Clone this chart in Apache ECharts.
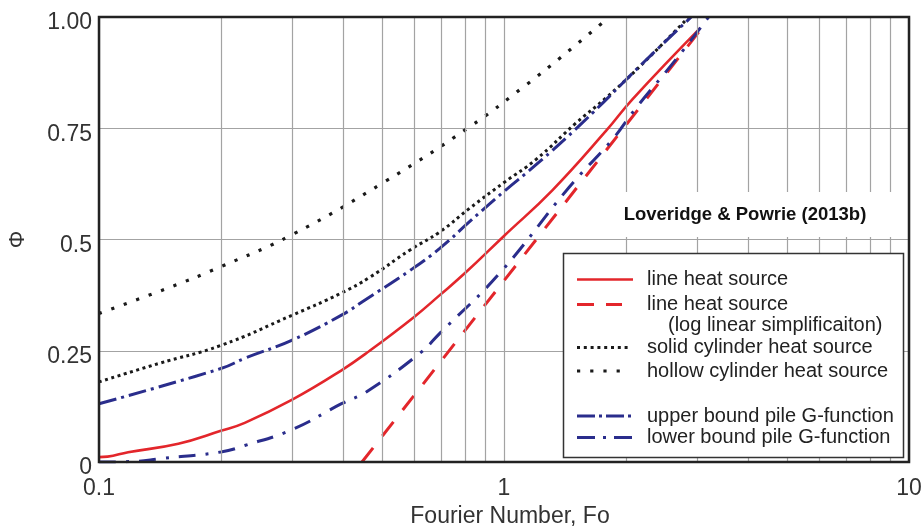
<!DOCTYPE html>
<html><head><meta charset="utf-8">
<script src="https://cdn.jsdelivr.net/npm/echarts@6/dist/echarts.min.js"></script>
<style>html,body{margin:0;padding:0;background:#fff}#c{width:923px;height:526px}</style>
</head><body><div id="c"></div>
<script>
// ---- tick labels / grid ----
const yTicks = [0, 0.25, 0.5, 0.75, 1];
const yTickLabels = ['0', '0.25', '0.5', '0.75', '1.00'];
const minorGridFo = [0.2, 0.3, 0.4, 0.5, 0.6, 0.7, 0.8, 0.9, 2, 3, 4, 5, 6, 7, 8, 9];

// ---- series (Fourier number, Phi) ----
const lineFo  = [0.1, 0.105, 0.118, 0.157, 0.2, 0.229, 0.3, 0.397, 0.466, 0.6, 0.694, 0.8, 1.0, 1.318, 1.79, 2.075, 3.05];
const linePhi = [0.011, 0.012, 0.022, 0.041, 0.07, 0.088, 0.14, 0.206, 0.25, 0.326, 0.375, 0.424, 0.508, 0.611, 0.745, 0.815, 0.975];

const logLinFo  = [0.446, 3.08];
const logLinPhi = [0, 0.975];

const solidFo  = [0.1, 0.14, 0.2, 0.3, 0.397, 0.466, 0.585, 0.694, 0.822, 1.0, 1.2, 1.507, 1.785, 2.2, 2.86];
const solidPhi = [0.18, 0.221, 0.262, 0.33, 0.38, 0.415, 0.476, 0.517, 0.57, 0.628, 0.68, 0.762, 0.818, 0.895, 1.0];

const hollowFo  = [0.1, 0.147, 0.2, 0.3, 0.508, 0.822, 1.14, 1.38, 1.82];
const hollowPhi = [0.334, 0.39, 0.439, 0.511, 0.63, 0.753, 0.849, 0.909, 1.0];

const upperFo  = [0.1, 0.2, 0.229, 0.3, 0.397, 0.45, 0.585, 0.694, 0.822, 1.0, 1.2, 1.56, 2.2, 2.9];
const upperPhi = [0.131, 0.21, 0.233, 0.274, 0.33, 0.362, 0.43, 0.48, 0.54, 0.608, 0.668, 0.762, 0.896, 1.0];

const lowerFo  = [0.1, 0.12, 0.143, 0.2, 0.229, 0.3, 0.397, 0.458, 0.619, 0.694, 0.975, 1.45, 1.853, 2.116, 2.66, 3.2];
const lowerPhi = [0, 0.001, 0.008, 0.0225, 0.037, 0.073, 0.131, 0.158, 0.244, 0.289, 0.424, 0.618, 0.725, 0.795, 0.905, 1.0];

const seriesNames = ['line heat source', 'line heat source (log linear simplificaiton)',
  'solid cylinder heat source', 'hollow cylinder heat source',
  'upper bound pile G-function', 'lower bound pile G-function'];

const RED = '#e3262b', BLUE = '#2a2d8c', BLACK = '#1a1a1a';
const FONT = '"Liberation Sans", Arial, sans-serif';

function zip(a, b) { return a.map((v, i) => [v, b[i]]); }

const styles = [
  { color: RED, width: 2.6, type: 'solid', smooth: 0.45 },
  { color: RED, width: 3, type: [18, 15], smooth: false },
  { color: BLACK, width: 3, type: [3, 3.5], smooth: 0.45 },
  { color: BLACK, width: 3.2, type: [3.2, 10], smooth: 0.45 },
  { color: BLUE, width: 3, type: [18, 5, 3, 5], smooth: 0.45 },
  { color: BLUE, width: 3, type: [17, 10, 3, 10], smooth: 0.45 }
];
const dataSets = [zip(lineFo, linePhi), zip(logLinFo, logLinPhi), zip(solidFo, solidPhi),
  zip(hollowFo, hollowPhi), zip(upperFo, upperPhi), zip(lowerFo, lowerPhi)];

const series = [{
  type: 'line', data: [], z: 1, silent: true,
  markLine: {
    silent: true, symbol: ['none', 'none'], label: { show: false }, animation: false,
    lineStyle: { color: '#a3a3a3', width: 1.2, type: 'solid' },
    data: minorGridFo.map(v => ({ xAxis: v }))
  }
}];
dataSets.forEach((d, i) => {
  series.push({
    name: seriesNames[i], type: 'line', data: d, symbol: 'none', showSymbol: false,
    smooth: styles[i].smooth, z: 3,
    lineStyle: { color: styles[i].color, width: styles[i].width, type: styles[i].type, cap: 'butt' }
  });
});

// ---- legend drawn as graphics ----
const LX0 = 577, TX = 647;
const legendRows = [
  { y: 279.5, x1: 633, s: 0, text: 'line heat source' },
  { y: 304.5, x1: 622, s: 1, text: 'line heat source' },
  { y: 325.5, x1: null, s: null, text: '(log linear simplificaiton)', tx: 668 },
  { y: 347.5, x1: 631, s: 2, text: 'solid cylinder heat source' },
  { y: 371, x1: 622, s: 3, text: 'hollow cylinder heat source' },
  { y: 416, x1: 633, s: 4, text: 'upper bound pile G-function' },
  { y: 437.5, x1: 633, s: 5, text: 'lower bound pile G-function' }
];
const legendDash = [null, [17, 12], [3, 3.8], [3.2, 10], [18, 4, 3, 4], [18, 8, 3, 8]];
const graphics = [
  { type: 'rect', shape: { x: 612, y: 192, width: 293, height: 45 }, style: { fill: '#fff' }, z: 50, silent: true },
  { type: 'text', x: 745, y: 215, z: 51, silent: true,
    style: { text: 'Loveridge & Powrie (2013b)', fontFamily: FONT, fontWeight: 'bold', fontSize: 18.5, fill: '#111', align: 'center', verticalAlign: 'middle' } },
  { type: 'rect', shape: { x: 563.5, y: 253.5, width: 340, height: 204 }, style: { fill: '#fff', stroke: '#333', lineWidth: 1.5 }, z: 50, silent: true }
];
legendRows.forEach(r => {
  if (r.s !== null) {
    const st = styles[r.s];
    graphics.push({ type: 'line', z: 51, silent: true,
      shape: { x1: LX0, y1: r.y, x2: r.x1, y2: r.y },
      style: { stroke: st.color, lineWidth: st.width, lineDash: legendDash[r.s], lineCap: 'butt' } });
  }
  graphics.push({ type: 'text', x: r.tx || TX, y: r.y, z: 51, silent: true,
    style: { text: r.text, fontFamily: FONT, fontSize: 20, fill: '#222', align: 'left', verticalAlign: 'middle' } });
});

const chart = echarts.init(document.getElementById('c'), null, { renderer: 'canvas' });
chart.setOption({
  animation: false,
  backgroundColor: '#fff',
  grid: { left: 99, top: 17, width: 810, height: 445, show: true, borderColor: '#222', borderWidth: 2.5,
    backgroundColor: 'transparent', z: 10, containLabel: false, outerBoundsMode: 'none' },
  xAxis: {
    type: 'log', logBase: 10, min: 0.1, max: 10,
    name: 'Fourier Number, Fo', nameLocation: 'middle', nameGap: 42,
    nameTextStyle: { fontFamily: FONT, fontSize: 23, color: '#333', padding: [0, 0, 0, 12] },
    axisLine: { show: false }, axisTick: { show: false },
    axisLabel: { fontFamily: FONT, fontSize: 23, color: '#333', margin: 15, formatter: v => String(v) },
    splitLine: { show: true, lineStyle: { color: '#a3a3a3', width: 1.2 } },
    minorTick: { show: false }, minorSplitLine: { show: false }
  },
  yAxis: {
    type: 'value', min: 0, max: 1, interval: 0.25,
    name: 'Φ', nameLocation: 'middle', nameGap: 70, nameRotate: 90,
    nameTextStyle: { fontFamily: FONT, fontSize: 22, color: '#333' },
    axisLine: { show: false }, axisTick: { show: false },
    axisLabel: { fontFamily: FONT, fontSize: 23, color: '#333', margin: 7, verticalAlign: 'top', lineHeight: 12,
      formatter: v => { const i = yTicks.findIndex(t => Math.abs(t - v) < 1e-9); return i >= 0 ? yTickLabels[i] : ''; } },
    splitLine: { show: true, lineStyle: { color: '#a3a3a3', width: 1.2 } }
  },
  series: series,
  graphic: graphics
});
</script>
</body></html>
